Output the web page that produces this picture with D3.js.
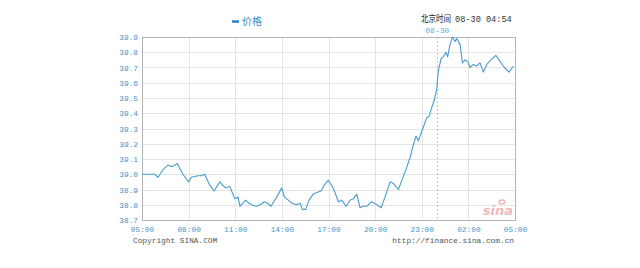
<!DOCTYPE html>
<html><head><meta charset="utf-8">
<script src="https://cdn.jsdelivr.net/npm/d3@7"></script>
<style>body{margin:0;background:#fff}svg{display:block}</style>
</head><body>
<svg id="c" width="640" height="268"></svg>
<script>
const times = ["05:00","05:49","06:02","06:21","06:40","06:57","07:16","07:38","08:00","08:10","08:36","08:49","09:02","09:21","09:38","10:00","10:22","10:39","10:58","11:11","11:18","11:40","11:53","12:03","12:23","12:36","12:52","13:05","13:18","13:40","13:59","14:10","14:25","14:40","14:57","15:10","15:19","15:32","15:45","16:01","16:15","16:31","16:44","16:59","17:15","17:25","17:38","17:51","18:08","18:23","18:36","18:49","19:02","19:14","19:28","19:47","20:06","20:23","20:38","20:58","21:10","21:30","21:43","21:59","22:15","22:27","22:38","22:47","23:02","23:19","23:28","23:39","23:49","23:58","00:04","00:15","00:23","00:33","00:40","00:49","00:58","01:09","01:15","01:28","01:37","01:47","01:58","02:06","02:19","02:32","02:45","02:58","03:11","03:27","03:46","04:02","04:19","04:37","04:54"];
const prices = [39.00,39.00,38.98,39.03,39.06,39.05,39.07,39.00,38.95,38.98,38.99,38.99,39.00,38.93,38.89,38.95,38.91,38.92,38.84,38.85,38.79,38.83,38.81,38.80,38.79,38.80,38.82,38.81,38.79,38.85,38.91,38.85,38.83,38.81,38.80,38.81,38.77,38.77,38.83,38.87,38.88,38.89,38.93,38.96,38.92,38.88,38.82,38.83,38.79,38.83,38.84,38.87,38.78,38.79,38.79,38.82,38.80,38.78,38.85,38.95,38.94,38.90,38.96,39.03,39.11,39.19,39.25,39.22,39.29,39.37,39.38,39.44,39.49,39.56,39.68,39.76,39.77,39.80,39.77,39.85,39.90,39.87,39.89,39.85,39.73,39.75,39.74,39.70,39.72,39.71,39.73,39.67,39.72,39.75,39.78,39.74,39.70,39.67,39.71];
const xTickLabels = ["05:00","08:00","11:00","14:00","17:00","20:00","23:00","02:00","05:00"];
const yTicks = [38.7,38.8,38.9,39.0,39.1,39.2,39.3,39.4,39.5,39.6,39.7,39.8,39.9];
const legendLabel = "价格";
const headerTitle = "北京时间";
const headerTime = "08-30 04:54";
const dayMarkLabel = "08-30";
const copyrightText = "Copyright  SINA.COM";
const urlText = "http://finance.sina.com.cn";

// convert times to minutes since start, crossing midnight
const mins = [];
let dayOff = 0, prev = -1;
times.forEach(t => {
  const [h, m] = t.split(":").map(Number);
  let v = h * 60 + m;
  if (v + dayOff < prev) dayOff += 1440;
  v += dayOff; prev = v; mins.push(v - 300);
});
const data = mins.map((m, i) => ({m, v: prices[i]}));

const svg = d3.select("#c");
const L = 142, R = 515, T = 37, B = 220;
const x = d3.scaleLinear().domain([0, 1440]).range([L, R]);
const y = d3.scaleLinear().domain([38.7, 39.9]).range([B, T]);
const mono = "'Liberation Mono','DejaVu Sans Mono',monospace";
const blue = "#3f95c8";

// grid
svg.append("g").selectAll("line").data(yTicks).join("line")
  .attr("x1", L).attr("x2", R).attr("y1", d => Math.round(y(d)) + 0.5).attr("y2", d => Math.round(y(d)) + 0.5)
  .attr("stroke", "#e4e4e4");
const xTickVals = d3.range(0, 1441, 180);
svg.append("g").selectAll("line").data(xTickVals).join("line")
  .attr("y1", T).attr("y2", B).attr("x1", d => Math.round(x(d)) + 0.5).attr("x2", d => Math.round(x(d)) + 0.5)
  .attr("stroke", "#e4e4e4");

// midnight dashed line
const mid = 1140;
svg.append("line").attr("x1", Math.round(x(mid)) + 0.5).attr("x2", Math.round(x(mid)) + 0.5)
  .attr("y1", T).attr("y2", B).attr("stroke", "#c8c8c8").attr("stroke-dasharray", "2,2");
svg.append("text").attr("x", x(mid)).attr("y", 33).attr("text-anchor", "middle")
  .attr("font-family", mono).attr("font-size", 8).attr("fill", "#5ab0dc").text(dayMarkLabel);

// border
svg.append("rect").attr("x", L + 0.5).attr("y", T + 0.5).attr("width", R - L).attr("height", B - T)
  .attr("fill", "none").attr("stroke", "#b4b4b4");

// axes
const yAxis = d3.axisLeft(y).tickValues(yTicks).tickFormat(d3.format(".1f")).tickSize(0).tickPadding(4);
const ya = svg.append("g").attr("transform", `translate(${L},0)`).call(yAxis);
ya.select(".domain").remove();
ya.selectAll("text").attr("font-family", mono).attr("font-size", 7.8).attr("fill", blue);

const xAxis = d3.axisBottom(x).tickValues(xTickVals).tickFormat((d, i) => xTickLabels[i]).tickSize(0).tickPadding(6);
const xa = svg.append("g").attr("transform", `translate(0,${B})`).call(xAxis);
xa.select(".domain").remove();
xa.selectAll("text").attr("font-family", mono).attr("font-size", 7.8).attr("fill", blue);

// watermark
svg.append("text").attr("x", 513).attr("y", 215).attr("text-anchor", "end")
  .attr("font-family", "'DejaVu Sans',sans-serif").attr("font-style", "italic").attr("font-weight", "bold")
  .attr("font-size", 13).attr("fill", "#f0b8b8").text("sina");
svg.append("ellipse").attr("cx", 502).attr("cy", 202).attr("rx", 3).attr("ry", 2).attr("fill", "none").attr("stroke", "#f0b8b8").attr("stroke-width", 1.5);

// line
svg.append("path").datum(data)
  .attr("d", d3.line().x(d => x(d.m)).y(d => y(d.v)))
  .attr("fill", "none").attr("stroke", "#4a9ccc").attr("stroke-width", 1.1).attr("stroke-linejoin", "round");

// legend
svg.append("line").attr("x1", 232).attr("x2", 239).attr("y1", 21.5).attr("y2", 21.5).attr("stroke", "#2f7fb8").attr("stroke-width", 2.5);
svg.append("text").attr("x", 242).attr("y", 25).attr("font-family", "'Noto Sans CJK SC',sans-serif")
  .attr("font-size", 10).attr("fill", "#3b8ec4").text(legendLabel);

// header
svg.append("text").attr("x", 421).attr("y", 22).attr("font-family", "'Noto Sans CJK SC',sans-serif")
  .attr("font-size", 9).attr("textLength", 30).attr("lengthAdjust", "spacingAndGlyphs")
  .attr("fill", "#222").text(headerTitle);
svg.append("text").attr("x", 455).attr("y", 22).attr("font-family", mono)
  .attr("font-size", 8.6).attr("fill", "#333").text(headerTime);

// footer
svg.append("text").attr("x", 133).attr("y", 243).attr("font-family", mono)
  .attr("font-size", 7.8).attr("fill", "#555").text(copyrightText);
svg.append("text").attr("x", 514).attr("y", 243).attr("text-anchor", "end").attr("font-family", mono)
  .attr("font-size", 7.8).attr("fill", "#555").text(urlText);
</script>
</body></html>
